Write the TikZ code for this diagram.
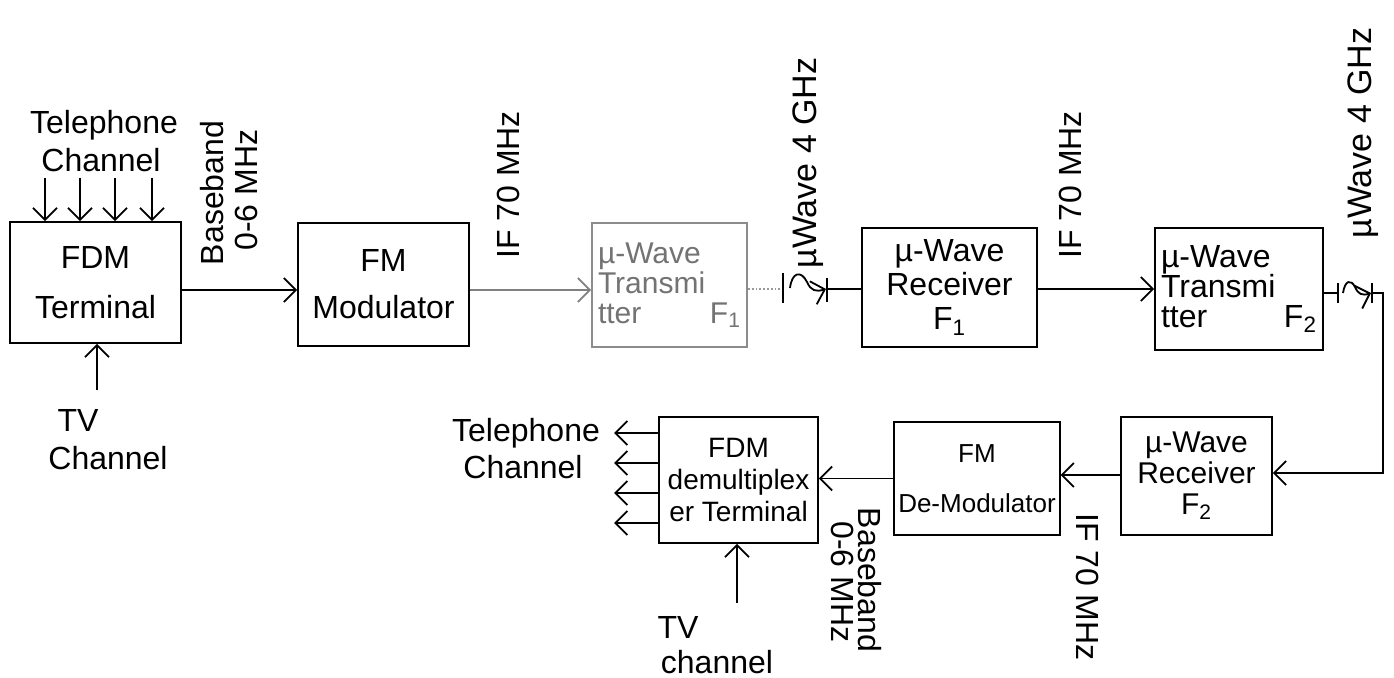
\documentclass[tikz,border=0pt]{standalone}
\usepackage{fontspec}
\setmainfont{Liberation Sans}
\usetikzlibrary{arrows.meta,calc}
\begin{document}
\begin{tikzpicture}[x=0.5pt,y=-0.5pt,
  every node/.style={inner sep=0pt, font=\fontsize{16}{18}\selectfont},
  blk/.style={draw, line width=0.9pt, inner sep=2pt, align=center},
  ln/.style={line width=0.9pt},
  arr/.style={line width=0.9pt, -{Straight Barb[length=6pt,width=12pt,line width=0.9pt]}},
  faint/.style={draw=black!45},
  lbl/.style={font=\fontsize{16}{18}\selectfont},
]
\useasboundingbox (0,0) rectangle (1394,678);
\fill[white] (0,0) rectangle (1394,678);

% ---------- blocks ----------
\node[blk, minimum width=85.5pt, minimum height=60.5pt, font=\fontsize{16}{25}\selectfont] (fdm) at (95.5,282.5) {FDM\\Terminal};
\node[blk, minimum width=85.5pt, minimum height=61.5pt, font=\fontsize{16}{23.5}\selectfont] (fm) at (383.5,284.5) {FM\\Modulator};
\node[blk, faint, text=black!55, minimum width=77.5pt, minimum height=62pt, inner sep=3pt, text width=71.5pt, align=left, font=\fontsize{15}{15}\selectfont] (txa) at (669.5,285) {µ-Wave\\Transmi\\tter\hfill F\textsubscript{1}};
\node[blk, minimum width=87.5pt, minimum height=59.5pt, font=\fontsize{16}{17}\selectfont] (rxa) at (949.5,287.5) {µ-Wave\\Receiver\\F\textsubscript{1}};
\node[blk, minimum width=84pt, minimum height=61pt, inner sep=3pt, text width=78pt, align=left, font=\fontsize{16}{15}\selectfont] (txb) at (1239,289) {µ-Wave\\Transmi\\tter\hfill F\textsubscript{2}};
\node[blk, minimum width=75.5pt, minimum height=59pt, font=\fontsize{15}{15.5}\selectfont] (rxb) at (1196.5,476) {µ-Wave\\Receiver\\F\textsubscript{2}};
\node[blk, minimum width=80pt, minimum height=56.5pt, font=\fontsize{13}{25}\selectfont] (dem) at (977,478.5) {FM\\De-Modulator};
\node[blk, minimum width=79.5pt, minimum height=63pt, font=\fontsize{14}{16}\selectfont] (dmx) at (738.5,480) {FDM\\demultiplex\\er Terminal};

% ---------- free ends ----------
\coordinate (t1) at (45,178);
\coordinate (t2) at (80,178);
\coordinate (t3) at (115,178);
\coordinate (t4) at (152,178);
\coordinate (tva) at (97,390);
\coordinate (tvb) at (737,603);
\coordinate (a1) at (783,289);
\coordinate (a2) at (827,289);
\coordinate (b1) at (1338,293);
\coordinate (b2) at (1372,293);
\coordinate (c1) at (1383,293);
\coordinate (c2) at (1383,473);

% ---------- connectors top ----------
\foreach \t in {t1,t2,t3,t4} \draw[arr] (\t) -- (\t |- fdm.north);
\draw[arr] (tva) -- (tva |- fdm.south);
\draw[arr] ([yshift=-3.75pt]fdm.east) -- ([yshift=-3.75pt]fdm.east -| fm.west);
\draw[arr, draw=black!50] ([yshift=-2.75pt]fm.east) -- ([yshift=-2.75pt]fm.east -| txa.west);
\draw[ln, draw=black!40, densely dotted] ([yshift=-2pt]txa.east) -- (a1);
% antenna F1
\draw[ln] (783,273) -- (783,303);
\draw[arr] (790,288) .. controls (792,272) and (801,270) .. (807,282) .. controls (811,291) and (816,292) .. (826,289);
\draw[ln] (827,278) -- (827,302);
\draw[ln] (a2) -- (a2 -| rxa.west);
\draw[arr] ([yshift=-0.75pt]rxa.east) -- ([yshift=-0.75pt]rxa.east -| txb.west);
% antenna F2
\draw[ln] ([yshift=-2pt]txb.east) -- (b1);
\draw[ln] (1338,283) -- (1338,303);
\draw[arr] (1343,293) .. controls (1345,280) and (1351,279) .. (1355,287) .. controls (1358,294) and (1362,296) .. (1371,293);
\draw[ln] (1372,283) -- (1372,303);
\draw[arr] (b2) -- (c1) -- (c2) -- (c2 -| rxb.east);

% ---------- connectors bottom ----------
\draw[arr] ([yshift=0.5pt]rxb.west) -- ([yshift=0.5pt]rxb.west -| dem.east);
\draw[arr] (dem.west) -- (dem.west -| dmx.east);
\foreach \s/\n in {23.5pt/o1,8.5pt/o2,-6.5pt/o3,-21.5pt/o4} {
  \coordinate (\n) at ($([yshift=\s]dmx.west)+(-44,0)$);
  \draw[arr] ([yshift=\s]dmx.west) -- (\n);
}
\draw[arr] (tvb) -- (tvb |- dmx.south);

% ---------- labels ----------
\node[lbl] (l1) at (104,125) {Telephone};
\node[lbl] (l2) at (101,160) {Channel};
\node[lbl] (l3) at (78,420) {TV};
\node[lbl] (l4) at (108,458) {Channel};
\node[lbl, rotate=90] (l5) at (212,193) {Baseband};
\node[lbl, rotate=90] (l6) at (246,190) {0-6 MHz};
\node[lbl, rotate=90] (l7) at (508,185) {IF 70 MHz};
\node[lbl, rotate=90, font=\fontsize{17}{18}\selectfont] (l8) at (808,163) {µWave 4 GHz};
\node[lbl, rotate=90] (l9) at (1070,185) {IF 70 MHz};
\node[lbl, rotate=90, font=\fontsize{17}{18}\selectfont] (l10) at (1363,133) {µWave 4 GHz};
\node[lbl, rotate=-90] (l11) at (1088,587) {IF 70 MHz};
\node[lbl, rotate=-90] (l12) at (870,580) {Baseband};
\node[lbl, rotate=-90] (l13) at (843,582) {0-6 MHz};
\node[lbl] (l14) at (526,433) {Telephone};
\node[lbl] (l15) at (523,467) {Channel};
\node[lbl] (l16) at (678,627) {TV};
\node[lbl] (l17) at (717,662) {channel};
\end{tikzpicture}
\end{document}
